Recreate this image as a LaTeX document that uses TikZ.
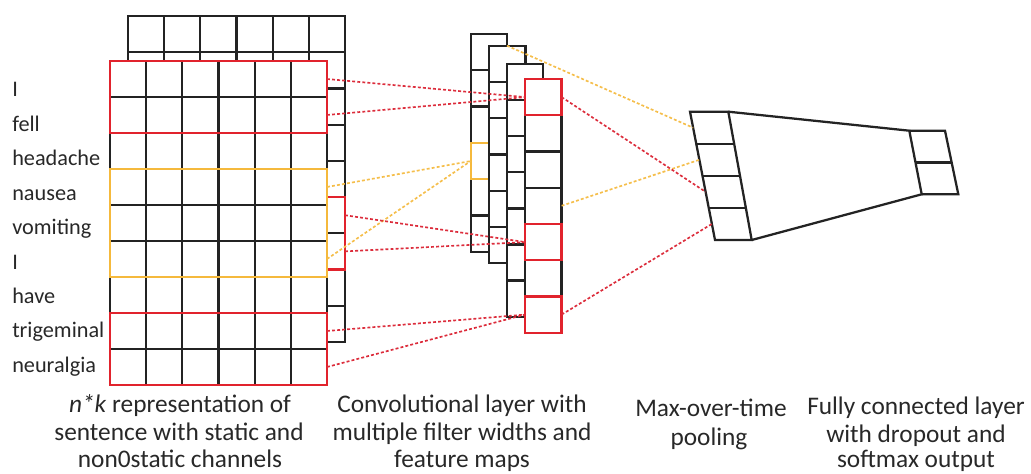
\documentclass[tikz,border=0pt]{standalone}
\usepackage{fontspec}
\setmainfont{Carlito}
\usetikzlibrary{calc}
\definecolor{ink}{RGB}{35,35,35}
\definecolor{txt}{RGB}{40,40,40}
\definecolor{boxred}{RGB}{225,35,45}
\definecolor{boxyel}{RGB}{245,185,60}
\definecolor{dred}{RGB}{220,45,60}
\definecolor{dyel}{RGB}{245,190,75}
\newcommand\convcol[5]{%
  \filldraw[gridline,fill=white] (#1,#2) rectangle ({#1+36.6},{#2+#4*#3});
  \foreach \k in {1,...,#5} \draw[gridline] (#1,{#2+\k*#3}) -- ({#1+36.6},{#2+\k*#3});
}
\begin{document}
\begin{tikzpicture}[x=0.75pt,y=-0.75pt,
  gridline/.style={draw=ink,line width=1.7pt},
  redbox/.style={draw=boxred,line width=1.7pt},
  yelbox/.style={draw=boxyel,line width=1.7pt},
  reddash/.style={draw=dred,line width=1.25pt,dash pattern=on 2.2pt off 1.6pt},
  yeldash/.style={draw=dyel,line width=1.25pt,dash pattern=on 2.2pt off 1.6pt},
  wordlbl/.style={anchor=base west,inner sep=0pt,text=txt,font=\fontsize{16.7}{20}\selectfont},
  captxt/.style={anchor=base,inner sep=0pt,text=txt,font=\fontsize{19}{22}\selectfont}]
\useasboundingbox (0,0) rectangle (1031,474);
% back channel
\filldraw[gridline,fill=white] (128,16) rectangle (345,342);
\foreach \i in {1,...,5} \draw[gridline] ({128+\i*217/6},16) -- ({128+\i*217/6},342);
\foreach \j in {1,...,8} \draw[gridline] (128,{16+\j*326/9}) -- (345,{16+\j*326/9});
\draw[redbox] (128,{16+5*326/9}) rectangle (345,{16+7*326/9});
% front channel
\filldraw[gridline,fill=white] (110,61) rectangle (327,385);
\foreach \i in {1,...,5} \draw[gridline] ({110+\i*217/6},61) -- ({110+\i*217/6},385);
\foreach \j in {1,...,8} \draw[gridline] (110,{61+\j*36}) -- (327,{61+\j*36});
\draw[redbox] (110,61) rectangle (327,133);
\draw[yelbox] (110,169) rectangle (327,277);
\draw[redbox] (110,313) rectangle (327,385);
% words
\foreach \w [count=\k from 0] in {I,fell,headache,nausea,vomiting,I,have,trigeminal,neuralgia}
  \node[wordlbl] (w\k) at (12,{97+\k*34.4}) {\w};
% convolutional feature maps
\convcol{470.7}{34}{36.3}{6}{5}
\draw[yelbox] (470.7,142.9) rectangle (507.3,179.2);
\convcol{489}{45.7}{36.27}{6}{5}
\convcol{506.7}{64}{36.1}{7}{6}
\convcol{525}{79}{36.24}{7}{6}
\draw[redbox] (525,79) rectangle (561.6,115.2);
\draw[redbox] (525,224) rectangle (561.6,260.2);
\draw[redbox] (525,296.4) rectangle (561.6,332.7);
% pooling column
\coordinate (pTL) at (690,111.7);
\coordinate (pBL) at (715,240);
\coordinate (pTR) at (728.3,111.7);
\coordinate (pBR) at (751.7,240);
\draw[gridline] (pTL) -- (pTR) -- (pBR) -- (pBL) -- cycle;
\foreach \k in {1,2,3} \draw[gridline] ($(pTL)!\k/4!(pBL)$) -- ($(pTR)!\k/4!(pBR)$);
% fully connected output
\coordinate (fTL) at (909.3,130.7);
\coordinate (fTR) at (945,130.7);
\coordinate (fBR) at (958.3,194.3);
\coordinate (fBL) at (921.7,194.3);
\draw[gridline] (pTR) -- (fTL) -- (fBL) -- (pBR);
\draw[gridline] (fTL) -- (fTR) -- (fBR) -- (fBL);
\draw[gridline] ($(fTL)!0.5!(fBL)$) -- ($(fTR)!0.5!(fBR)$);
% connector end points
\coordinate (r1) at (327,79);
\coordinate (r2) at (327,115);
\coordinate (y1) at (327,187);
\coordinate (y2) at (327,259);
\coordinate (b1) at (345,215.2);
\coordinate (b2) at (345,251.4);
\coordinate (r8) at (327,331);
\coordinate (r9) at (327,367);
\coordinate (k1in) at (525,97.1);
\coordinate (k5in) at (525,242.1);
\coordinate (k7in) at (525,314.6);
\coordinate (k1out) at (561.6,97.1);
\coordinate (k4out) at (561.6,205.8);
\coordinate (k7out) at (561.6,314.6);
\coordinate (yin) at (470.7,161.05);
\coordinate (c2top) at (507,45.7);
% dashed connectors
\draw[reddash] (r1) -- (k1in);
\draw[reddash] (r2) -- (k1in);
\draw[yeldash] (y1) -- (yin);
\draw[yeldash] (y2) -- (yin);
\draw[reddash] (b1) -- (k5in);
\draw[reddash] (b2) -- (k5in);
\draw[reddash] (r8) -- (k7in);
\draw[reddash] (r9) -- (k7in);
\draw[yeldash] (c2top) -- ($(pTL)!0.125!(pBL)$);
\draw[yeldash] (k4out) -- ($(pTL)!0.375!(pBL)$);
\draw[reddash] (k1out) -- ($(pTL)!0.625!(pBL)$);
\draw[reddash] (k7out) -- ($(pTL)!0.875!(pBL)$);
% captions
\node[captxt] (c1a) at (180,412) {\textit{n*k} representation of};
\node[captxt] (c1b) at (179,440) {sentence with static and};
\node[captxt] (c1c) at (180,467.5) {non0static channels};
\node[captxt] (c2a) at (462,412) {Convolutional layer with};
\node[captxt] (c2b) at (462,440.5) {multiple filter widths and};
\node[captxt] (c2c) at (462,467.5) {feature maps};
\node[captxt] (c3a) at (711,416) {Max-over-time};
\node[captxt] (c3b) at (709,445) {pooling};
\node[captxt] (c4a) at (916,414) {Fully connected layer};
\node[captxt] (c4b) at (916,442) {with dropout and};
\node[captxt] (c4c) at (916,467.5) {softmax output};
\end{tikzpicture}
\end{document}
